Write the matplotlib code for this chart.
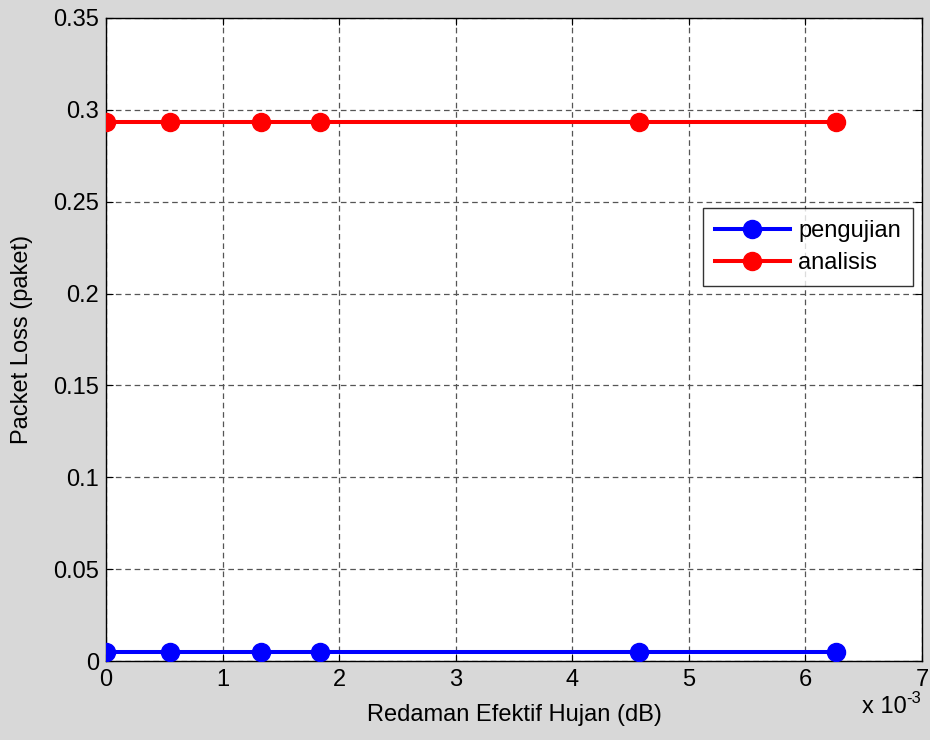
import matplotlib
matplotlib.use("Agg")
import matplotlib.pyplot as plt
from matplotlib.ticker import FuncFormatter

plt.rcParams['font.family'] = ['Liberation Sans', 'DejaVu Sans']

redaman = [0.0, 0.55e-3, 1.33e-3, 1.84e-3, 4.57e-3, 6.26e-3]
pengujian = [0.005, 0.005, 0.005, 0.005, 0.005, 0.005]
analisis = [0.2933, 0.2933, 0.2933, 0.2933, 0.2933, 0.2933]
xticks = [0, 1e-3, 2e-3, 3e-3, 4e-3, 5e-3, 6e-3, 7e-3]
yticks = [0, 0.05, 0.1, 0.15, 0.2, 0.25, 0.3, 0.35]

FS = 17

fig = plt.figure(figsize=(9.3, 7.4), dpi=100, facecolor='#d8d8d8')
ax = fig.add_axes([106/930, 79/740, 816/930, 643/740])
ax.set_facecolor('white')

ax.plot(redaman, pengujian, '-o', color='#0000ff', lw=2.9, ms=13, label='pengujian', zorder=3)
ax.plot(redaman, analisis, '-o', color='#ff0000', lw=2.9, ms=13, label='analisis', zorder=3)

ax.set_xlim(0, 7e-3)
ax.set_ylim(0, 0.35)
ax.set_xticks(xticks)
ax.set_yticks(yticks)
ax.xaxis.set_major_formatter(FuncFormatter(lambda v, p: f"{v*1e3:g}"))
ax.yaxis.set_major_formatter(FuncFormatter(lambda v, p: f"{v:g}"))
ax.tick_params(direction='in', top=True, right=True, labelsize=FS, length=5, width=0.8, pad=5)
ax.tick_params(axis='x', pad=6)
ax.grid(True, linestyle=(0, (4.5, 3)), color='#555555', lw=0.9)
for s in ax.spines.values():
    s.set_linewidth(1.0)
    s.set_color('black')

ax.set_xlabel('Redaman Efektif Hujan (dB)', fontsize=FS)
ax.set_ylabel('Packet Loss (paket)', fontsize=FS)
ax.xaxis.set_label_coords(0.5, (661 - 704) / 643)
ax.yaxis.set_label_coords((33 - 106) / 816, 0.5)
fig.text(862/930, 1 - 713/740, 'x 10', fontsize=FS, ha='left', va='baseline')
fig.text(906/930, 1 - 703/740, '-3', fontsize=12, ha='left', va='baseline')

leg = ax.legend(loc='upper right', bbox_to_anchor=(0.989, 0.7045), borderaxespad=0,
                fontsize=FS, frameon=True, fancybox=False, edgecolor='black',
                handlelength=3.2, handletextpad=0.35, borderpad=0.5, labelspacing=0.44)
leg.get_frame().set_linewidth(1.0)

fig.savefig('out.png', dpi=100, facecolor=fig.get_facecolor())
